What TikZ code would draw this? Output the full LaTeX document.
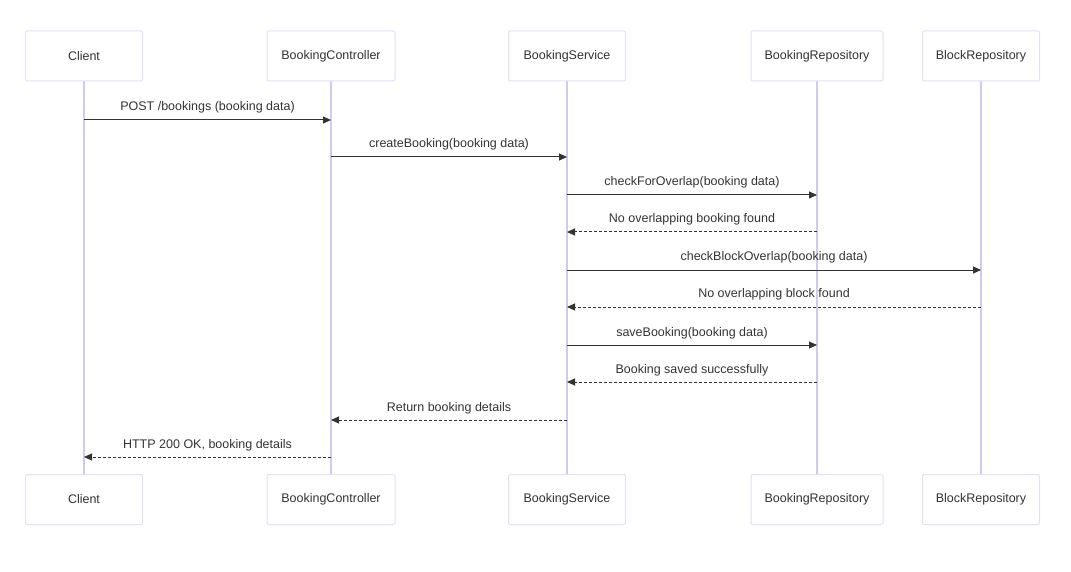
\documentclass[tikz,border=0pt]{standalone}
\usepackage{fontspec}
\setmainfont{Liberation Sans}
\usetikzlibrary{arrows.meta}
\definecolor{boxline}{HTML}{E2DFF7}
\definecolor{lifeline}{HTML}{CFCAF0}
\definecolor{txt}{HTML}{333333}
\tikzset{
  actor/.style={draw=boxline, line width=1pt, fill=white, rounded corners=2pt, minimum height=50pt, inner sep=0pt, text=txt, font=\fontsize{12.5}{15}\selectfont},
  life/.style={draw=lifeline, line width=1.6pt},
  msg/.style={draw=txt, line width=1pt, -{Triangle[length=8pt,width=7pt]}},
  reply/.style={msg, dashed, dash pattern=on 3pt off 2pt},
  lbl/.style={text=txt, font=\fontsize{12.5}{15}\selectfont, inner sep=0pt, anchor=base, yshift=9pt}
}
\begin{document}
\begin{tikzpicture}[x=1pt,y=-1pt]
\useasboundingbox (0,0) rectangle (1071,572);
% lifelines (drawn first)
\foreach \n/\x in {cl/84, bc/331, bs/567, br/817, kr/981}{
  \coordinate (\n t) at (\x,81);
  \coordinate (\n b) at (\x,474);
}
\draw[life] (clt) -- (clb);
\draw[life] (bct) -- (bcb);
\draw[life] (bst) -- (bsb);
\draw[life] (brt) -- (brb);
\draw[life] (krt) -- (krb);
% actors
\node[actor, minimum width=117pt] (clTop) at (84,56) {Client};
\node[actor, minimum width=128pt] (bcTop) at (331,56) {BookingController};
\node[actor, minimum width=117pt] (bsTop) at (567,56) {BookingService};
\node[actor, minimum width=132pt] (brTop) at (817,56) {BookingRepository};
\node[actor, minimum width=117pt] (krTop) at (981,56) {BlockRepository};
\node[actor, minimum width=117pt] (clBot) at (84,499.5) {Client};
\node[actor, minimum width=128pt] (bcBot) at (331,499.5) {BookingController};
\node[actor, minimum width=117pt] (bsBot) at (567,499.5) {BookingService};
\node[actor, minimum width=132pt] (brBot) at (817,499.5) {BookingRepository};
\node[actor, minimum width=117pt] (krBot) at (981,499.5) {BlockRepository};
% message anchor coordinates
\foreach \n/\x in {cl/84, bc/331, bs/567, br/817, kr/981}{
  \foreach \i/\y in {1/120, 2/157, 3/195, 4/232, 5/270, 6/307, 7/345, 8/382, 9/420, 10/457}{
    \coordinate (\n\i) at (\x,\y);
  }
}
\draw[msg] (cl1) -- (bc1) node[lbl, midway] {POST /bookings (booking data)};
\draw[msg] (bc2) -- (bs2) node[lbl, midway] {createBooking(booking data)};
\draw[msg] (bs3) -- (br3) node[lbl, midway] {checkForOverlap(booking data)};
\draw[reply] (br4) -- (bs4) node[lbl, midway] {No overlapping booking found};
\draw[msg] (bs5) -- (kr5) node[lbl, midway] {checkBlockOverlap(booking data)};
\draw[reply] (kr6) -- (bs6) node[lbl, midway] {No overlapping block found};
\draw[msg] (bs7) -- (br7) node[lbl, midway] {saveBooking(booking data)};
\draw[reply] (br8) -- (bs8) node[lbl, midway] {Booking saved successfully};
\draw[reply] (bs9) -- (bc9) node[lbl, midway] {Return booking details};
\draw[reply] (bc10) -- (cl10) node[lbl, midway] {HTTP 200 OK, booking details};
\end{tikzpicture}
\end{document}
